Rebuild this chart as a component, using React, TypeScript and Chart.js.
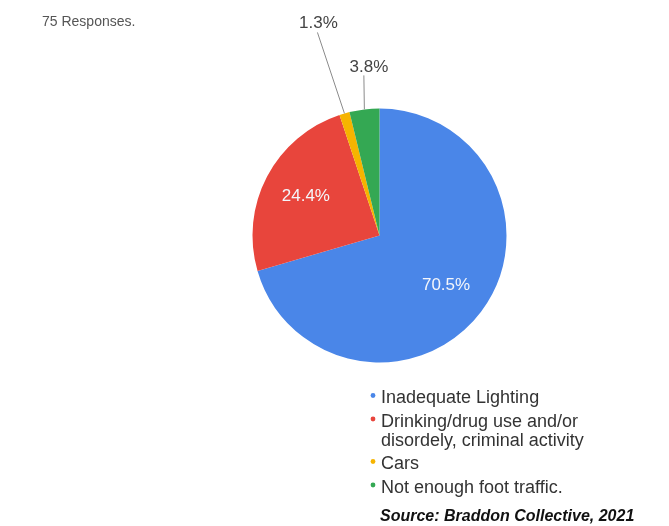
import React, { useEffect, useRef } from "react";
import { Chart, registerables } from "chart.js";

Chart.register(...registerables);

const categories = [
  "Inadequate Lighting",
  "Drinking/drug use and/or disordely, criminal activity",
  "Cars",
  "Not enough foot traffic.",
];
const values = [70.5, 24.4, 1.3, 3.8];
const colors = ["#4a86e8", "#e8453c", "#f6b400", "#34a853"];
const responsesNote = "75 Responses.";
const sourceNote = "Source: Braddon Collective, 2021";

// which slices get outside labels with leader lines (style config)
const outsideLabels: Record<number, { dx: number; dy: number; tx: number; ty: number }> = {
  2: { dx: -27, dy: -81, tx: 1, ty: -4 },
  3: { dx: -0.5, dy: -34, tx: 5, ty: -3 },
};

const FONT = "Arial, 'Liberation Sans', sans-serif";

const annotate = {
  id: "annotate",
  afterDraw(chart: any) {
    const ctx = chart.ctx as CanvasRenderingContext2D;
    const meta = chart.getDatasetMeta(0);
    const data = chart.data.datasets[0].data as number[];
    ctx.save();
    meta.data.forEach((arc: any, i: number) => {
      const { x, y, startAngle, endAngle, outerRadius } = arc.getProps(
        ["x", "y", "startAngle", "endAngle", "outerRadius"],
        true
      );
      const mid = (startAngle + endAngle) / 2;
      const text = data[i].toFixed(1) + "%";
      const o = outsideLabels[i];
      if (!o) {
        const r = outerRadius * 0.655;
        ctx.fillStyle = "#f4f6fb";
        ctx.font = `17px ${FONT}`;
        ctx.textAlign = "center";
        ctx.textBaseline = "middle";
        ctx.fillText(text, x + Math.cos(mid) * r, y + Math.sin(mid) * r);
      } else {
        const ax = x + Math.cos(mid) * outerRadius;
        const ay = y + Math.sin(mid) * outerRadius;
        const ex = ax + o.dx;
        const ey = ay + o.dy;
        ctx.strokeStyle = "#8a8a8a";
        ctx.lineWidth = 1;
        ctx.beginPath();
        ctx.moveTo(ax, ay);
        ctx.lineTo(ex, ey);
        ctx.stroke();
        ctx.fillStyle = "#444";
        ctx.font = `17px ${FONT}`;
        ctx.textAlign = "center";
        ctx.textBaseline = "alphabetic";
        ctx.fillText(text, ex + o.tx, ey + o.ty);
      }
    });

    // header note
    ctx.fillStyle = "#555";
    ctx.font = `14px ${FONT}`;
    ctx.textAlign = "left";
    ctx.textBaseline = "alphabetic";
    ctx.fillText(responsesNote, 42, 26);

    // legend
    const lx = 381;
    let by = 403;
    ctx.font = `18px ${FONT}`;
    categories.forEach((label, i) => {
      const words = label.split(" ");
      const lines: string[] = [];
      let cur = "";
      words.forEach((w) => {
        const t = cur ? cur + " " + w : w;
        if (ctx.measureText(t).width > 220 && cur) {
          lines.push(cur);
          cur = w;
        } else cur = t;
      });
      if (cur) lines.push(cur);
      ctx.fillStyle = colors[i];
      ctx.beginPath();
      ctx.arc(373, by - 7.5, 2.4, 0, Math.PI * 2);
      ctx.fill();
      ctx.fillStyle = "#333";
      lines.forEach((ln, j) => {
        ctx.fillText(ln, lx, by + j * 19);
      });
      by += (lines.length - 1) * 19 + 23.5;
    });

    // source
    ctx.fillStyle = "#111";
    ctx.font = `italic bold 16px ${FONT}`;
    ctx.fillText(sourceNote, 380, 521);
    ctx.restore();
  },
};

export default function App() {
  const ref = useRef<HTMLCanvasElement>(null);
  useEffect(() => {
    if (!ref.current) return;
    const chart = new Chart(ref.current, {
      type: "pie",
      data: {
        labels: categories,
        datasets: [
          {
            data: values,
            backgroundColor: colors,
            borderWidth: 0,
          },
        ],
      },
      options: {
        responsive: false,
        animation: false,
        devicePixelRatio: 1,
        layout: { padding: { left: 252.5, right: 162.5, top: 108.5, bottom: 163.5 } },
        plugins: {
          legend: { display: false },
          tooltip: { enabled: false },
          title: { display: false },
        },
      },
      plugins: [annotate],
    });
    return () => chart.destroy();
  }, []);
  return (
    <div style={{ position: "absolute", left: 0, top: 0, width: 669, height: 526, background: "#fff" }}>
      <canvas ref={ref} width={669} height={526} />
    </div>
  );
}
